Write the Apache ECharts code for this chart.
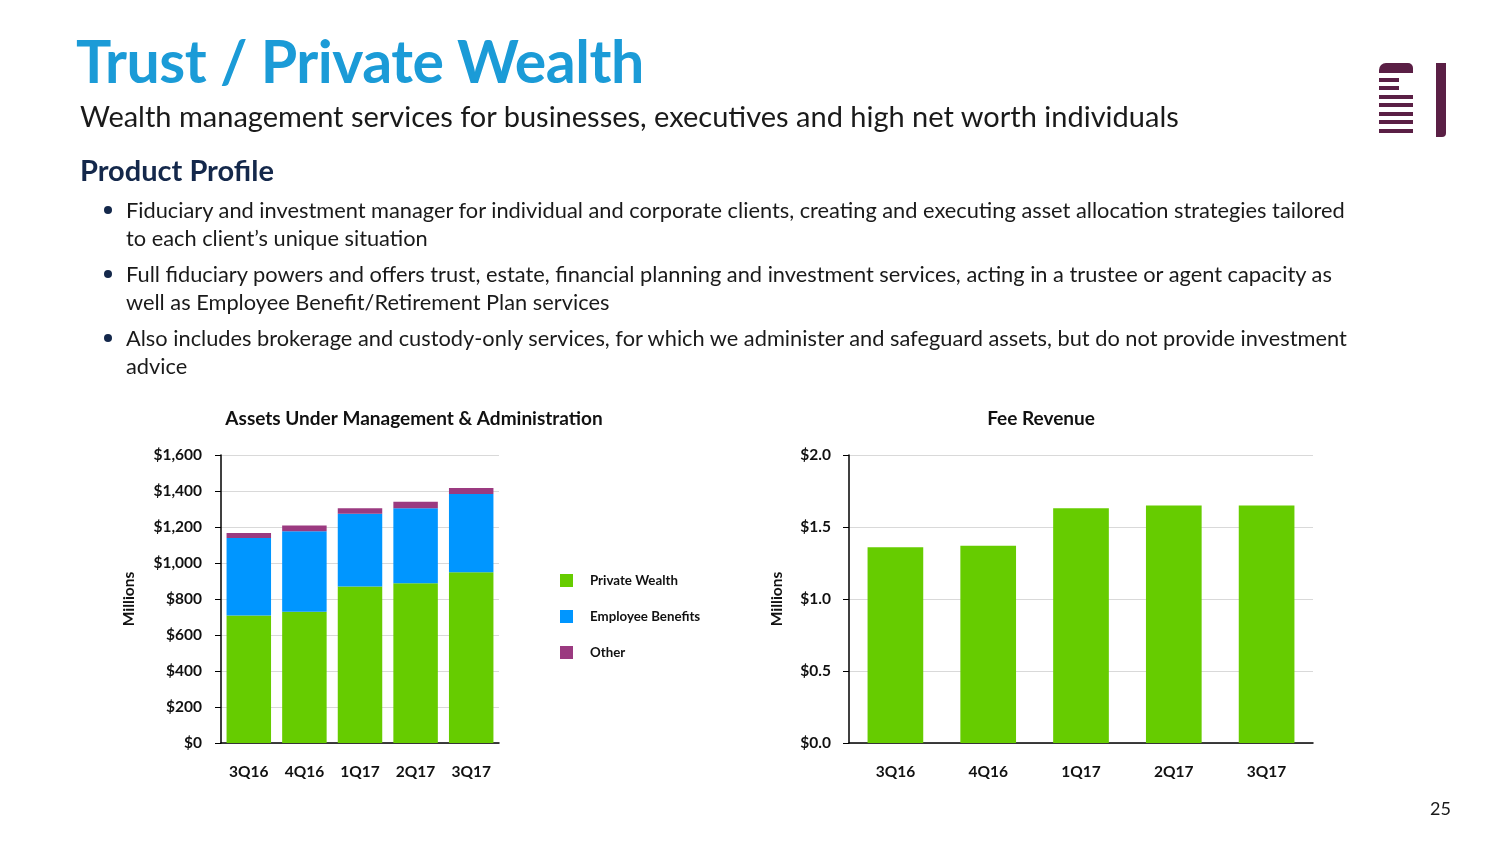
<!DOCTYPE html>
<html>
<head>
<meta charset="utf-8">
<script src="https://cdn.jsdelivr.net/npm/echarts@6/dist/echarts.min.js"></script>
<style>
  html, body { margin:0; padding:0; background:#fff; }
  body { width:1504px; height:846px; position:relative; overflow:hidden; font-family: Lato, "Open Sans", sans-serif; }
  #chart { position:absolute; left:0; top:0; width:1504px; height:846px; }
  .txt { position:absolute; white-space:nowrap; }
  #title { left:76px; top:25px; font-size:59px; font-weight:bold; color:#1b9bd7; letter-spacing:-0.5px; }
  #sub { left:80px; top:98px; font-size:29px; color:#1a1a1a; }
  #pp { left:80px; top:152px; font-size:29px; font-weight:bold; color:#14284b; }
  .bl { left:126px; font-size:21.8px; color:#1a1a1a; }
  .dot { position:absolute; left:104px; width:8px; height:8px; border-radius:50%; background:#14284b; }
  #pg { left:1430px; top:797px; font-size:18px; color:#1a1a1a; }
  .lg { position:absolute; background:#5a1f45; }
</style>
</head>
<body>
<div id="chart"></div>
<div class="txt" id="title">Trust / Private Wealth</div>
<div class="txt" id="sub">Wealth management services for businesses, executives and high net worth individuals</div>
<div class="txt" id="pp">Product Profile</div>
<div class="dot" style="top:206px"></div>
<div class="txt bl" style="top:196px">Fiduciary and investment manager for individual and corporate clients, creating and executing asset allocation strategies tailored</div>
<div class="txt bl" style="top:224px">to each client’s unique situation</div>
<div class="dot" style="top:270px"></div>
<div class="txt bl" style="top:260px">Full fiduciary powers and offers trust, estate, financial planning and investment services, acting in a trustee or agent capacity as</div>
<div class="txt bl" style="top:288px">well as Employee Benefit/Retirement Plan services</div>
<div class="dot" style="top:334px"></div>
<div class="txt bl" style="top:324px">Also includes brokerage and custody-only services, for which we administer and safeguard assets, but do not provide investment</div>
<div class="txt bl" style="top:352px">advice</div>
<div class="txt" id="pg">25</div>
<!-- logo -->
<div class="lg" style="left:1379px;top:63px;width:34px;height:10px;border-radius:7px 5px 0 0"></div>
<div class="lg" style="left:1379px;top:78px;width:20px;height:4px"></div>
<div class="lg" style="left:1379px;top:86px;width:20px;height:4px"></div>
<div class="lg" style="left:1379px;top:95px;width:34px;height:4px"></div>
<div class="lg" style="left:1379px;top:103px;width:34px;height:4px"></div>
<div class="lg" style="left:1379px;top:112px;width:34px;height:4px"></div>
<div class="lg" style="left:1379px;top:120px;width:34px;height:4px"></div>
<div class="lg" style="left:1379px;top:129px;width:34px;height:4px"></div>
<div class="lg" style="left:1436px;top:63px;width:10px;height:74px;border-radius:0 0 4px 0"></div>
<script>
const categories = ['3Q16', '4Q16', '1Q17', '2Q17', '3Q17'];
const privateWealth = [708, 729, 870, 887, 948];
const employeeBenefits = [431, 447, 403, 417, 436];
const other = [28, 32, 31, 36, 33];
const feeRevenue = [1.36, 1.37, 1.63, 1.65, 1.65];
const aumTicks = { min: 0, max: 1600, interval: 200 };
const feeTicks = { min: 0, max: 2.0, interval: 0.5 };

const chart = echarts.init(document.getElementById('chart'));
const FONT = 'Lato, "Open Sans", sans-serif';
const axisLbl = { color:'#111', fontWeight:'bold', fontSize:15.5, fontFamily:FONT };
const xAxisCommon = {
  type:'category', data:categories,
  axisLine:{ lineStyle:{ color:'#000', width:1.5 } },
  axisTick:{ alignWithLabel:true, length:7, lineStyle:{ color:'#000' } },
  axisLabel:Object.assign({ margin:21 }, axisLbl)
};
const yAxisCommon = {
  type:'value',
  axisLine:{ show:true, lineStyle:{ color:'#000', width:1.5 } },
  axisTick:{ show:true, length:6, lineStyle:{ color:'#000' } },
  splitLine:{ lineStyle:{ color:'#d9d9d9' } },
  name:'Millions', nameLocation:'middle', nameRotate:90,
  nameTextStyle:{ color:'#111', fontWeight:'bold', fontSize:15.5, fontFamily:FONT }
};
chart.setOption({
  animation:false,
  title:[
    { text:'Assets Under Management & Administration', left:414, top:409, textAlign:'center', padding:0,
      textStyle:{ fontSize:19, fontWeight:'bold', color:'#111', fontFamily:FONT } },
    { text:'Fee Revenue', left:1041, top:409, textAlign:'center', padding:0,
      textStyle:{ fontSize:19, fontWeight:'bold', color:'#111', fontFamily:FONT } }
  ],
  legend:{
    orient:'vertical', left:555, top:569, itemWidth:13, itemHeight:13, itemGap:23, icon:'rect',
    data:['Private Wealth','Employee Benefits','Other'],
    textStyle:{ fontSize:13.3, fontWeight:'bold', color:'#111', fontFamily:FONT, padding:[0,0,0,12] }
  },
  grid:[
    { left:221, top:455, width:278, height:288 },
    { left:849, top:455, width:464, height:288 }
  ],
  xAxis:[
    Object.assign({ gridIndex:0 }, xAxisCommon),
    Object.assign({ gridIndex:1 }, xAxisCommon)
  ],
  yAxis:[
    Object.assign({}, yAxisCommon, { gridIndex:0, min:aumTicks.min, max:aumTicks.max, interval:aumTicks.interval, nameGap:84,
      axisLabel:Object.assign({ margin:19, formatter:v => '$' + v.toLocaleString('en-US') }, axisLbl) }),
    Object.assign({}, yAxisCommon, { gridIndex:1, min:feeTicks.min, max:feeTicks.max, interval:feeTicks.interval, nameGap:64,
      axisLabel:Object.assign({ margin:18, formatter:v => '$' + v.toFixed(1) }, axisLbl) })
  ],
  series:[
    { name:'Private Wealth', type:'bar', stack:'aum', xAxisIndex:0, yAxisIndex:0, data:privateWealth,
      barCategoryGap:'20%', itemStyle:{ color:'#66cc00' } },
    { name:'Employee Benefits', type:'bar', stack:'aum', xAxisIndex:0, yAxisIndex:0, data:employeeBenefits,
      itemStyle:{ color:'#0096ff' } },
    { name:'Other', type:'bar', stack:'aum', xAxisIndex:0, yAxisIndex:0, data:other,
      itemStyle:{ color:'#9b3a80' } },
    { name:'Fee Revenue', type:'bar', xAxisIndex:1, yAxisIndex:1, data:feeRevenue,
      barCategoryGap:'40%', itemStyle:{ color:'#66cc00' } }
  ]
});
</script>
</body>
</html>
